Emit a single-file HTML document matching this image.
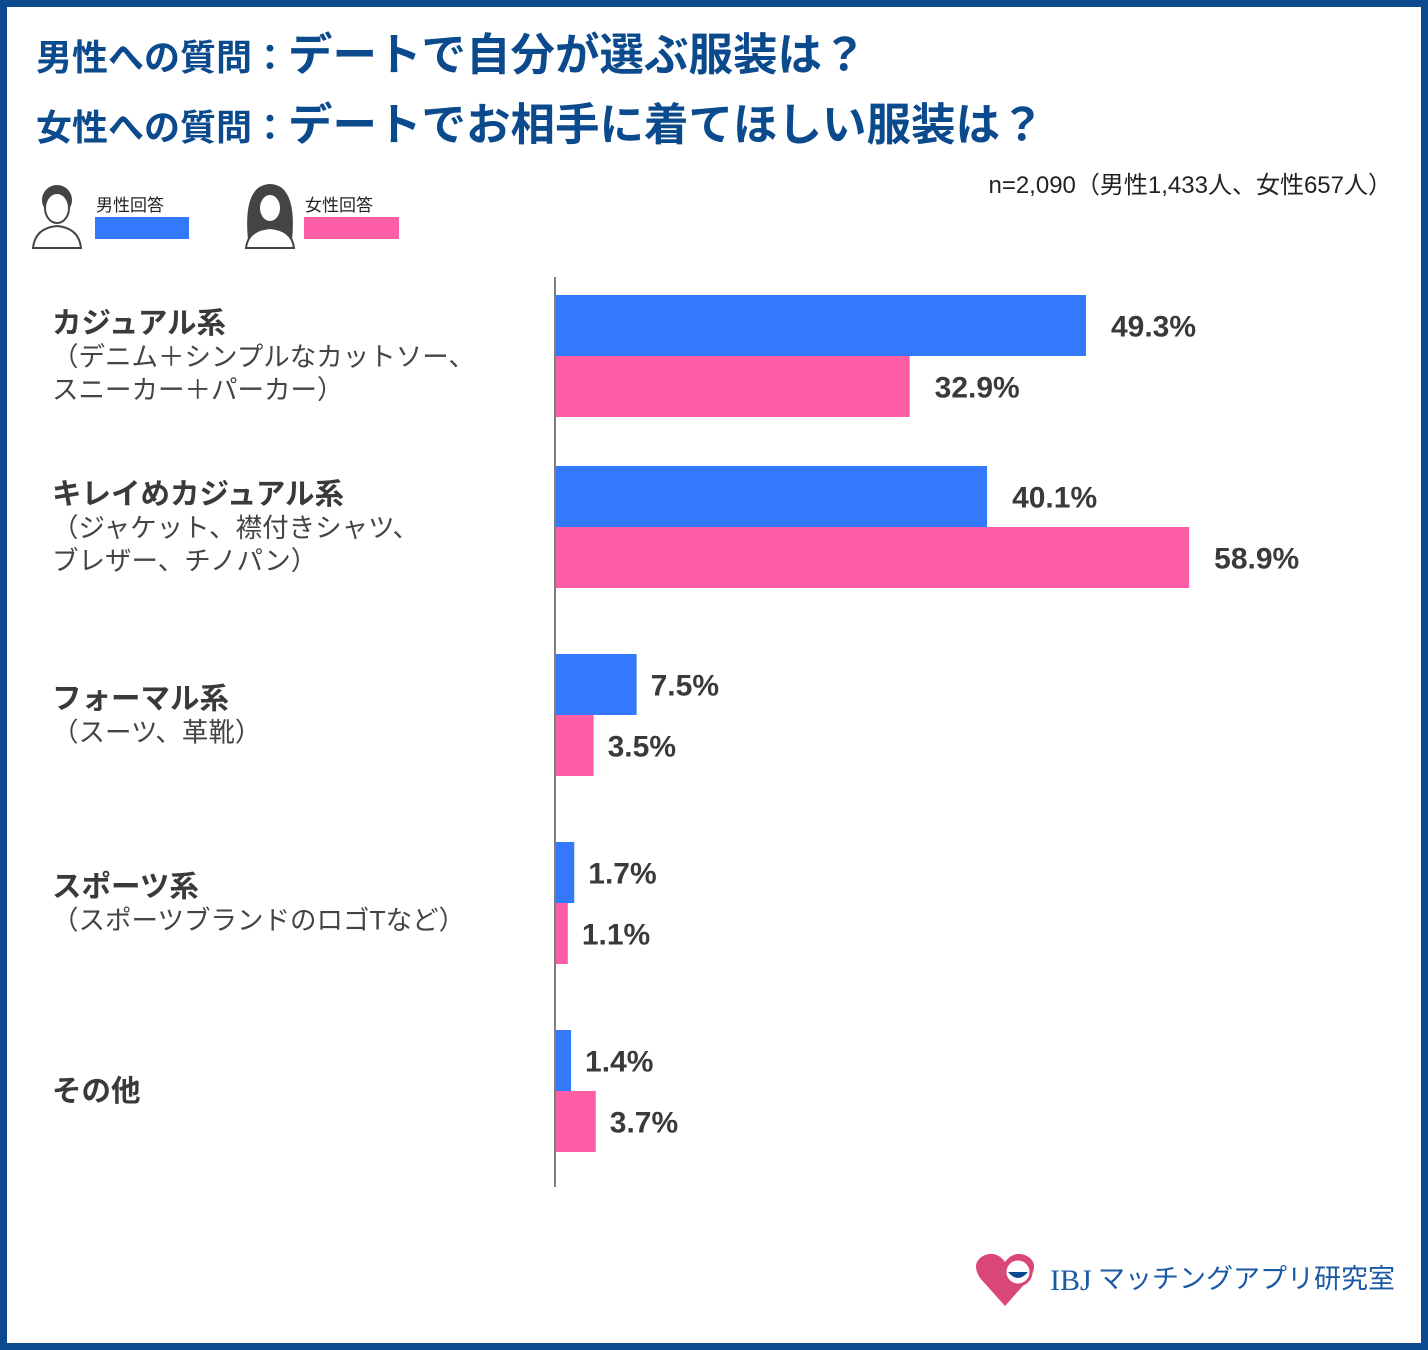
<!DOCTYPE html>
<html><head><meta charset="utf-8">
<style>
html,body{margin:0;padding:0}
body{width:1428px;height:1350px;position:relative;background:#fff;font-family:"Liberation Sans","Noto Sans CJK JP",sans-serif;overflow:hidden}
#frame{position:absolute;left:0;top:0;width:1414px;height:1336px;border:7px solid #0c4a8e}
.t{position:absolute;left:36px;color:#0c4a8e;font-weight:bold;white-space:nowrap;line-height:1}
.t .s{font-size:36px}
.t .b{font-size:44.5px}
svg{position:absolute;left:0;top:0}
</style></head><body>
<div id="frame"></div>
<div class="t" style="top:34px"><span class="s">男性への質問：</span><span class="b">デートで自分が選ぶ服装は？</span></div>
<div class="t" style="top:104px"><span class="s">女性への質問：</span><span class="b">デートでお相手に着てほしい服装は？</span></div>
<div style="position:absolute;right:36px;top:165px;font-size:24px;color:#222;white-space:nowrap">n=2,090（男性1,433人、女性657人）</div>

<svg width="1428" height="1350" id="chart">
  <g>
    <circle cx="57" cy="200" r="15" fill="#444"/>
    <ellipse cx="57" cy="208" rx="12" ry="15" fill="#fff" stroke="#444" stroke-width="2"/>
    <path d="M33 248 Q35 228 57 226 Q79 228 81 248 Z" fill="#fff" stroke="#444" stroke-width="2"/>
    <text x="96" y="211" font-size="17" fill="#222">男性回答</text>
    <rect x="95" y="217" width="94" height="22" fill="#3478fb"/>
  </g>
  <g>
    <path d="M248 240 Q244 200 258 188 Q270 180 282 188 Q296 200 292 240 Z" fill="#444"/>
    <ellipse cx="270" cy="208" rx="11" ry="14" fill="#fff" stroke="#444" stroke-width="2"/>
    <path d="M246 248 Q248 230 270 228 Q292 230 294 248 Z" fill="#fff" stroke="#444" stroke-width="2"/>
    <text x="305" y="211" font-size="17" fill="#222">女性回答</text>
    <rect x="304" y="217" width="95" height="22" fill="#fd5ea6"/>
  </g>
  <line x1="555" y1="277" x2="555" y2="1187" stroke="#555" stroke-width="1.5"/>
  <g id="bars"></g>
  <g>
    <path d="M1005 1306 L980 1278 Q970 1262 985 1255 Q997 1251 1005 1262 Q1013 1251 1025 1255 Q1040 1262 1030 1278 Z" fill="#d9467a"/>
    <circle cx="1018" cy="1272" r="13" fill="#fff" stroke="#d9467a" stroke-width="3"/>
    <path d="M1008 1272 Q1018 1284 1028 1272 Z" fill="#0c4a8e"/>
    <text x="1050" y="1290" font-family="Liberation Serif, serif" font-size="30" fill="#1a5aa5">IBJ</text>
    <text x="1098" y="1288" font-size="27" fill="#1a5aa5">マッチングアプリ研究室</text>
  </g>
</svg>
<script>
const categories=["カジュアル系","キレイめカジュアル系","フォーマル系","スポーツ系","その他"];
const subLabels=[["（デニム＋シンプルなカットソー、","スニーカー＋パーカー）"],["（ジャケット、襟付きシャツ、","ブレザー、チノパン）"],["（スーツ、革靴）"],["（スポーツブランドのロゴTなど）"],[]];
const maleValues=[49.3,40.1,7.5,1.7,1.4];
const femaleValues=[32.9,58.9,3.5,1.1,3.7];
const valueLabelsM=["49.3%","40.1%","7.5%","1.7%","1.4%"];
const valueLabelsF=["32.9%","58.9%","3.5%","1.1%","3.7%"];

const NS="http://www.w3.org/2000/svg";
const g=document.getElementById('bars');
const x0=556, pxPer=10.75;
const xScale=v=>x0+v*pxPer;
const yTop=i=>i===0?295:(i===1?466:654+(i-2)*188);
const barH=61;
function mk(tag,attrs){const e=document.createElementNS(NS,tag);for(const k in attrs)e.setAttribute(k,attrs[k]);return e;}
categories.forEach((c,i)=>{
  const y=yTop(i);
  [[maleValues,valueLabelsM,"#3478fb","male"],[femaleValues,valueLabelsF,"#fd5ea6","female"]].forEach(([vals,labs,col,nm],j)=>{
    const by=y+j*barH;
    const r=mk('rect',{x:x0,y:by,width:xScale(vals[i])-x0,height:barH,fill:col});
    
    
    g.appendChild(r);
    const t=mk('text',{x:xScale(vals[i])+(vals[i]>20?25:14),y:by+barH/2+11,'font-size':30,'font-weight':'bold',fill:'#3a3a3a'});
    t.textContent=labs[i];
    
    
    g.appendChild(t);
  });
  const subs=subLabels[i];
  const mid=y+barH;
  const n=subs.length;
  let ty=mid-(n*33)/2+10;
  const ct=mk('text',{x:52,y:ty,'font-size':29.5,'font-weight':'bold',fill:'#3a3a3a'});
  ct.textContent=c;
  
  
  g.appendChild(ct);
  subs.forEach((s,k)=>{
    const st=mk('text',{x:52,y:ty+33*(k+1),'font-size':26.5,fill:'#444'});
    st.textContent=s;
    
    
    g.appendChild(st);
  });
});
</script>
</body></html>
